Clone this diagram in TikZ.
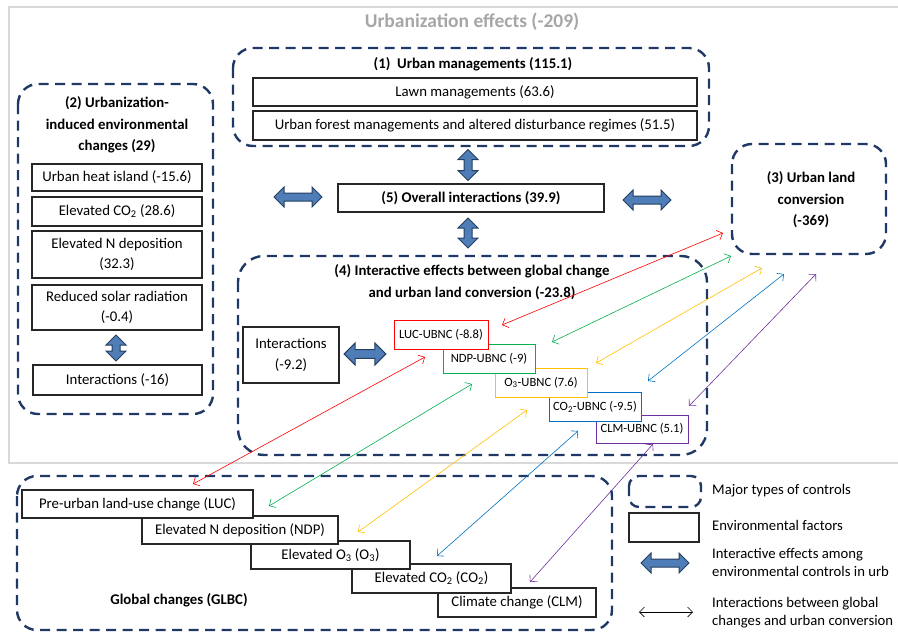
\documentclass[tikz,border=0pt]{standalone}
\usepackage{fontspec}
\setmainfont{Carlito}
\usetikzlibrary{arrows.meta}
\definecolor{navy}{HTML}{1F3864}
\definecolor{arrfill}{HTML}{4F7DB8}
\definecolor{arrdraw}{HTML}{243F60}
\definecolor{cred}{HTML}{FF0000}
\definecolor{cgreen}{HTML}{00B050}
\definecolor{cyellow}{HTML}{FFC000}
\definecolor{cblue}{HTML}{0070C0}
\definecolor{cpurple}{HTML}{7030A0}
\definecolor{titlegray}{HTML}{A6A6A6}
\definecolor{framegray}{HTML}{D9D9D9}
\tikzset{
  ctrl/.style={draw=navy, line width=2.4pt, dash pattern=on 10pt off 6.5pt, rounded corners=20pt},
  env/.style={draw=black!85, line width=1.1pt, fill=white, inner sep=0pt, align=center,
    font=\fontsize{14.8}{20}\selectfont},
  ubnc/.style={env, line width=1pt, font=\fontsize{12.6}{14}\selectfont},
  ttl/.style={font=\bfseries\fontsize{14.8}{21.5}\selectfont, align=center, inner sep=0pt},
  lgd/.style={anchor=west, inner sep=0pt, align=left, font=\fontsize{14.7}{18}\selectfont},
  link/.style={line width=0.6pt, {Straight Barb[length=5pt,width=10pt]}-{Straight Barb[length=5pt,width=10pt]}},
  pics/dbl/.style={code={
    \filldraw[fill=arrfill, draw=arrdraw, line width=1pt]
      (-#1,0) -- (-#1+10,-10) -- (-#1+10,-4) -- (#1-10,-4) -- (#1-10,-10) -- (#1,0)
      -- (#1-10,10) -- (#1-10,4) -- (-#1+10,4) -- (-#1+10,10) -- cycle;}}
}
\begin{document}
\begin{tikzpicture}[x=1pt,y=-1pt]
\useasboundingbox (0,0) rectangle (898,632);
% outer frame
\draw[draw=framegray, line width=2.5pt] (9,7) rectangle (915,463);
\node[font=\bfseries\fontsize{19.5}{22}\selectfont, text=titlegray, inner sep=0pt] (maintitle) at (472,22) {Urbanization effects (-209)};

% major control groups
\draw[ctrl] (233,48) rectangle (709,146);
\draw[ctrl] (18,84) rectangle (213,414);
\draw[ctrl] (732,144) rectangle (886,254);
\draw[ctrl, rounded corners=26pt] (238,256) rectangle (707,455);
\draw[ctrl] (17,476) rectangle (612,630);

% (1) urban managements
\node[ttl] (t1) at (473,64) {(1)\ \ Urban managements (115.1)};
\node[env, minimum width=444, minimum height=28] (lawn) at (475,92) {Lawn managements (63.6)};
\node[env, minimum width=444, minimum height=29] (forest) at (475,125.5) {Urban forest managements and altered disturbance regimes (51.5)};

% (5) overall
\node[env, minimum width=266, minimum height=28, font=\bfseries\fontsize{14.8}{17}\selectfont] (overall) at (471,198) {(5) Overall interactions (39.9)};

% (2) urbanization-induced
\node[ttl] (t2) at (117,125) {(2) Urbanization-\\induced environmental\\changes (29)};
\node[env, minimum width=170, minimum height=27] (uhi) at (117,177.5) {Urban heat island (-15.6)};
\node[env, minimum width=170, minimum height=29] (eco2) at (117,211.5) {Elevated CO\textsubscript{2} (28.6)};
\node[env, minimum width=170, minimum height=47] (endep) at (117,254.5) {Elevated N deposition\\(32.3)};
\node[env, minimum width=170, minimum height=45] (solar) at (117,307.5) {Reduced solar radiation\\(-0.4)};
\node[env, minimum width=169, minimum height=30] (int16) at (117.5,380) {Interactions (-16)};

% (3) urban land conversion
\node[ttl] (t3) at (811,200) {(3) Urban land\\conversion\\(-369)};

% (4) interactive effects
\node[ttl] (t4) at (472,282) {(4) Interactive effects between global change\\and urban land conversion (-23.8)};
\node[env, minimum width=96, minimum height=56, font=\fontsize{14.8}{21}\selectfont] (int92) at (291,355) {Interactions\\(-9.2)};
\node[ubnc, draw=cpurple, minimum width=92, minimum height=28] (clmu) at (642,429) {CLM-UBNC (5.1)};
\node[ubnc, draw=cblue, minimum width=92, minimum height=29] (co2u) at (595,406.5) {CO\textsubscript{2}-UBNC (-9.5)};
\node[ubnc, draw=cyellow, minimum width=92, minimum height=29] (o3u) at (541,382.5) {O\textsubscript{3}-UBNC (7.6)};
\node[ubnc, draw=cgreen, minimum width=92, minimum height=29] (ndpu) at (489,358.5) {NDP-UBNC (-9)};
\node[ubnc, draw=cred, minimum width=94, minimum height=29] (lucu) at (441,334.5) {LUC-UBNC (-8.8)};

% global changes
\node[env, minimum width=158, minimum height=29] (clm) at (517,602.5) {Climate change (CLM)};
\node[env, minimum width=159, minimum height=29] (co2) at (431.5,578.5) {Elevated CO\textsubscript{2} (CO\textsubscript{2})};
\node[env, minimum width=159, minimum height=28] (o3) at (330.5,555) {Elevated O\textsubscript{3} (O\textsubscript{3})};
\node[env, minimum width=196, minimum height=28] (ndp) at (240,530) {Elevated N deposition (NDP)};
\node[env, minimum width=231, minimum height=28] (luc) at (137.5,504) {Pre-urban land-use change (LUC)};
\node[ttl] (tg) at (179,600) {Global changes (GLBC)};

% block double arrows
\pic[rotate=90] at (468,165) {dbl=15.5};
\pic[rotate=90] at (468,233) {dbl=15};
\pic at (298,197) {dbl=24};
\pic at (647,200) {dbl=24};
\pic[rotate=90] at (116,348) {dbl=13};
\pic[scale=1.1] at (365,354) {dbl=19};

% colored interaction links
\coordinate (ra) at (502,325); \coordinate (rb) at (723,233);
\coordinate (rc) at (425,357); \coordinate (rd) at (193,484);
\coordinate (ga) at (552,342); \coordinate (gb) at (731,256);
\coordinate (gc) at (472,384); \coordinate (gd) at (269,506);
\coordinate (ya) at (596,363); \coordinate (yb) at (762,268);
\coordinate (yc) at (527,410); \coordinate (yd) at (358,532);
\coordinate (ba) at (648,381); \coordinate (bb) at (784,274);
\coordinate (bc) at (578,431); \coordinate (bd) at (437,556);
\coordinate (pa) at (689,406); \coordinate (pb) at (816,274);
\coordinate (pc) at (653,444); \coordinate (pd) at (530,582);
\draw[link, cred] (ra) -- (rb);
\draw[link, cred] (rc) -- (rd);
\draw[link, cgreen] (ga) -- (gb);
\draw[link, cgreen] (gc) -- (gd);
\draw[link, cyellow] (ya) -- (yb);
\draw[link, cyellow] (yc) -- (yd);
\draw[link, cblue] (ba) -- (bb);
\draw[link, cblue] (bc) -- (bd);
\draw[link, cpurple] (pa) -- (pb);
\draw[link, cpurple] (pc) -- (pd);

% legend
\draw[ctrl, rounded corners=10pt] (629,476) rectangle (701,507);
\node[lgd] (l1) at (712,491) {Major types of controls};
\node[env, minimum width=70, minimum height=29] (lbox) at (664,527.5) {};
\node[lgd] (l2) at (712,525) {Environmental factors};
\pic at (665,563) {dbl=24};
\node[lgd] (l3) at (712,562) {Interactive effects among\\environmental controls in urb};
\coordinate (la) at (639,612); \coordinate (lb) at (693,612);
\draw[link, black] (la) -- (lb);
\node[lgd] (l4) at (712,613) {Interactions between global\\changes and urban conversion};
\end{tikzpicture}
\end{document}
